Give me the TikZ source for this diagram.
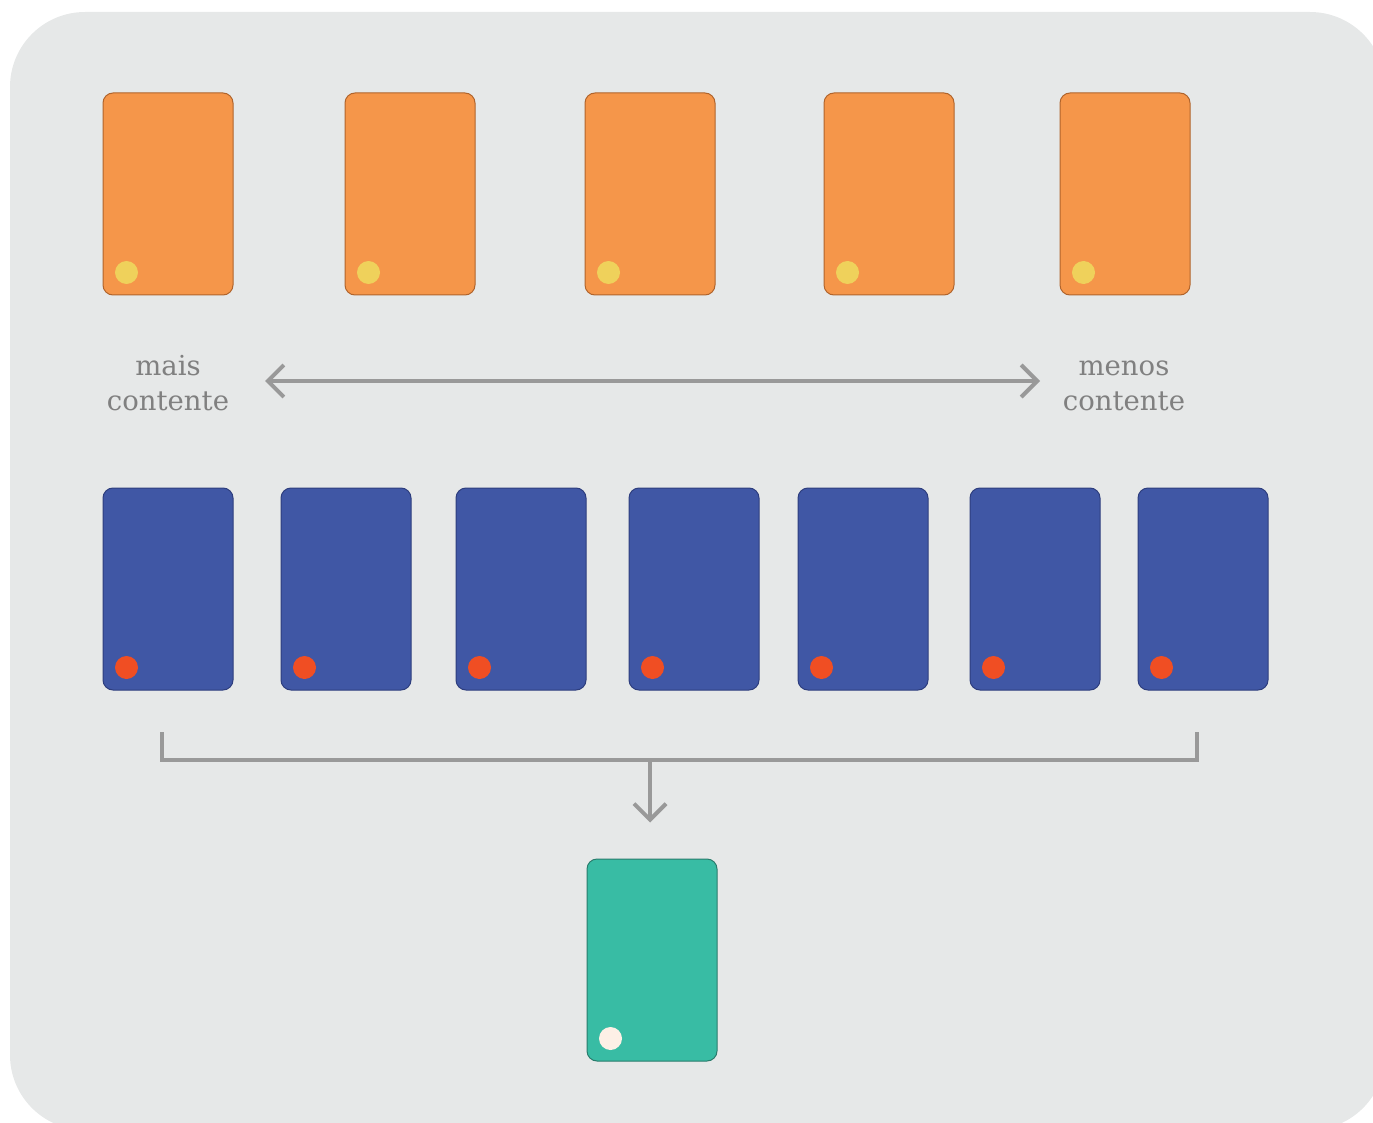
\documentclass[tikz,border=0pt]{standalone}
\usepackage{fontspec}
\setmainfont{DejaVu Serif}
\usetikzlibrary{arrows.meta}
\definecolor{bgc}{HTML}{E6E8E8}
\definecolor{orf}{HTML}{F5964A}
\definecolor{ord}{HTML}{B0642C}
\definecolor{yel}{HTML}{EFD15B}
\definecolor{blf}{HTML}{4057A5}
\definecolor{bld}{HTML}{2E3E7E}
\definecolor{red}{HTML}{F04E23}
\definecolor{grf}{HTML}{38BCA4}
\definecolor{grd}{HTML}{2A7C6C}
\definecolor{wdot}{HTML}{FDF0E6}
\definecolor{lgray}{HTML}{999999}
\definecolor{tgray}{HTML}{808080}
\tikzset{
  card/.style={rectangle, rounded corners=10pt, minimum width=130pt, minimum height=202pt, inner sep=0pt, line width=1pt},
  ocard/.style={card, fill=orf, draw=ord},
  bcard/.style={card, fill=blf, draw=bld},
  gcard/.style={card, fill=grf, draw=grd},
  dot/.style={circle, minimum size=23pt, inner sep=0pt},
  ydot/.style={dot, fill=yel},
  rdot/.style={dot, fill=red},
  wdotst/.style={dot, fill=wdot},
  lbl/.style={text=tgray, align=center, font=\fontsize{27.5}{35}\selectfont},
  glink/.style={draw=lgray, line width=4pt},
  tip/.style={-{Straight Barb[length=16pt, width=32pt, line width=4pt]}}
}
\begin{document}
\begin{tikzpicture}[x=1pt, y=-1pt]
\useasboundingbox (0,0) rectangle (1373,1123);
\begin{scope}
  \clip (0,0) rectangle (1373,1123);
  \fill[bgc, rounded corners=75pt] (10,12) rectangle (1385,1130);
\end{scope}
% orange cards
\foreach \i/\x in {1/168, 2/410, 3/650, 4/889, 5/1125} {
  \node[ocard] (o\i) at (\x,194) {};
  \node[ydot] (od\i) at ([shift={(24,-23)}]o\i.south west) {};
}
% blue cards
\foreach \i/\x in {1/168, 2/346, 3/521, 4/694, 5/863, 6/1035, 7/1203} {
  \node[bcard] (b\i) at (\x,589) {};
  \node[rdot] (bd\i) at ([shift={(24,-23)}]b\i.south west) {};
}
% green card
\node[gcard] (g) at (652,960) {};
\node[wdotst] (gd) at ([shift={(24,-23)}]g.south west) {};
% labels
\node[lbl] (lm) at (168,381) {\strut mais\\contente};
\node[lbl] (lr) at (1124,381) {\strut menos\\contente};
% double arrow
\coordinate (al) at (265,381);
\coordinate (ar) at (1040,381);
\draw[glink, {Straight Barb[length=16pt, width=32pt, line width=4pt]}-{Straight Barb[length=16pt, width=32pt, line width=4pt]}] (al) -- (ar);
% bracket
\coordinate (bl) at (162,732);
\coordinate (br) at (1197,732);
\coordinate (bm) at (650,760);
\draw[glink] (bl) |- (bm) -| (br);
\draw[glink, tip, shorten >=36pt] (bm) -- (bm |- g.north);
\end{tikzpicture}
\end{document}
